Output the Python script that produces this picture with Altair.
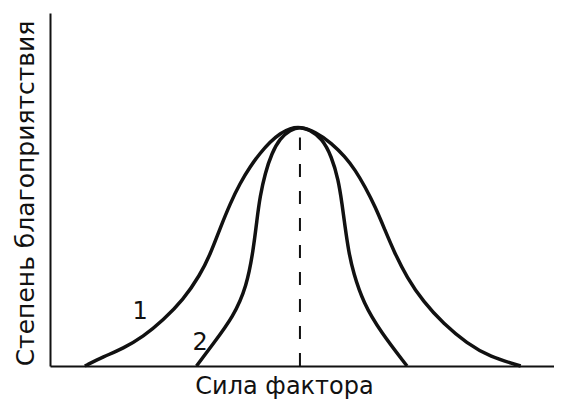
import altair as alt
import pandas as pd

# Curve 1 (wide tolerance range)
c1_x = [6.8, 10.4, 14.3, 18.2, 22.1, 26.0, 29.3, 31.25, 33.2, 35.2, 37.1, 39.1, 41.0, 43.0, 44.9, 46.9, 48.8,
        51.8, 55.0, 57.6, 59.6, 61.5, 63.5, 65.4, 67.1, 69.7, 72.9, 76.8, 81.4, 85.9, 91.9]
c1_y = [0, 2.6, 5.0, 8.3, 13.0, 18.7, 25.8, 31.5, 39.0, 46.1, 51.8, 56.5, 60.3, 63.5, 65.9, 67.3, 67.8,
        66.4, 63.1, 59.3, 55.5, 50.8, 45.1, 38.5, 32.6, 25.0, 18.2, 12.0, 6.4, 2.6, 0]
# Curve 2 (narrow tolerance range)
c2_x = [28.6, 31.9, 35.8, 38.4, 39.7, 40.4, 41.0, 42.0, 43.3, 44.9, 46.9, 48.8,
        50.7, 53.1, 55.0, 56.3, 57.0, 57.6, 58.3, 59.2, 61.2, 64.5, 69.7]
c2_y = [0, 6.4, 14.0, 22.5, 32.9, 41.4, 48.0, 54.6, 60.3, 64.5, 66.9, 67.8,
        66.9, 64.5, 59.3, 52.7, 46.1, 39.5, 32.5, 26.5, 17.8, 9.8, 0]

optimum_x = [48.8]
optimum_top = [64.7]

label_text = ["1", "2"]
label_x = [17.6, 29.3]
label_y = [15.4, 6.4]

FONT = "DejaVu Sans"
INK = "#111111"

df = pd.concat([
    pd.DataFrame({"x": c1_x, "y": c1_y, "curve": "1"}),
    pd.DataFrame({"x": c2_x, "y": c2_y, "curve": "2"}),
])
opt = pd.DataFrame({"x": optimum_x, "y0": [0.0], "y1": optimum_top})
labels = pd.DataFrame({"t": label_text, "x": label_x, "y": label_y})

xs = alt.Scale(domain=[0, 98.4], nice=False, zero=False)
ys = alt.Scale(domain=[0, 100], nice=False)

xaxis = alt.Axis(title="Сила фактора", labels=False, ticks=False, grid=False,
                 domainColor=INK, domainWidth=2, titleFont=FONT, titleFontSize=24,
                 titleFontWeight="normal", titleColor=INK, titlePadding=8,
                 titleX=234, titleAlign="center")
yaxis = alt.Axis(title="Степень благоприятствия", labels=False, ticks=False, grid=False,
                 domainColor=INK, domainWidth=2, titleFont=FONT, titleFontSize=25,
                 titleFontWeight="normal", titleColor=INK, titlePadding=12,
                 titleY=180)

lines = alt.Chart(df).mark_line(interpolate="basis", strokeWidth=3.5, color=INK).encode(
    x=alt.X("x:Q", scale=xs, axis=xaxis),
    y=alt.Y("y:Q", scale=ys, axis=yaxis),
    detail="curve:N",
)

rule = alt.Chart(opt).mark_rule(strokeDash=[13, 14], strokeWidth=2, color=INK).encode(
    x=alt.X("x:Q", scale=xs),
    y=alt.Y("y0:Q", scale=ys),
    y2="y1:Q",
)

text = alt.Chart(labels).mark_text(font=FONT, fontSize=24, color=INK).encode(
    x=alt.X("x:Q", scale=xs),
    y=alt.Y("y:Q", scale=ys),
    text="t:N",
)

chart = alt.layer(lines, rule, text).properties(
    width=504, height=353,
    autosize=alt.AutoSizeParams(type="none"),
    padding={"left": 42, "top": 5, "right": 0, "bottom": 33},
    background="white",
).configure_view(stroke=None)

chart.save("out.html", embed_options={"renderer": "svg", "actions": False})
